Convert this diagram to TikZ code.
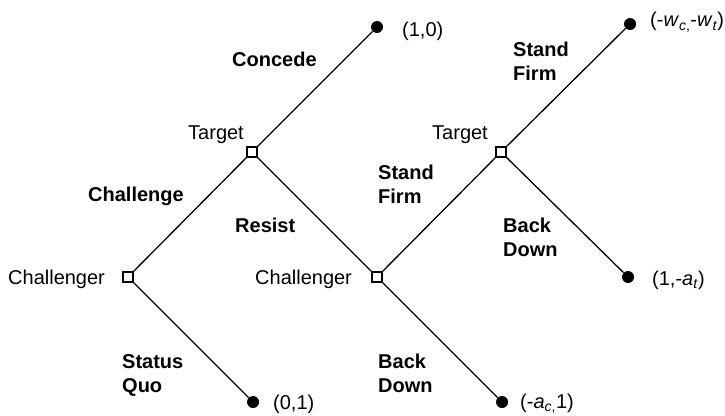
\documentclass[tikz,border=0pt]{standalone}
\usepackage{fontspec}
\setmainfont{Liberation Sans}
\begin{document}
\begin{tikzpicture}[x=1pt,y=-1pt,
  decision/.style={draw=black,fill=white,line width=1.2pt,minimum size=10pt,inner sep=0pt,rectangle},
  outcome/.style={circle,fill=black,minimum size=12pt,inner sep=0pt},
  branch/.style={line width=1.3pt},
  lbl/.style={anchor=base west,inner sep=0pt,font=\fontsize{20}{24}\selectfont},
  move/.style={lbl,font=\fontsize{20}{24}\selectfont\bfseries}]
\useasboundingbox (0,0) rectangle (725,415);

% decision points
\node[decision] (c1) at (128,277) {};
\node[decision] (t1) at (252,152) {};
\node[decision] (c2) at (377,277) {};
\node[decision] (t2) at (501,152) {};

% terminal outcomes
\node[outcome] (e1) at (377,27) {};
\node[outcome] (e2) at (630,24) {};
\node[outcome] (e3) at (628,277) {};
\node[outcome] (e4) at (502,402) {};
\node[outcome] (e5) at (253,402) {};

% branches
\draw[branch] (c1) -- (t1);
\draw[branch] (c1) -- (e5);
\draw[branch] (t1) -- (e1);
\draw[branch] (t1) -- (c2);
\draw[branch] (c2) -- (t2);
\draw[branch] (c2) -- (e4);
\draw[branch] (t2) -- (e2);
\draw[branch] (t2) -- (e3);

% players
\node[lbl] (pc1) at (8,284) {Challenger};
\node[lbl] (pt1) at (188,139) {Target};
\node[lbl] (pc2) at (255,284) {Challenger};
\node[lbl] (pt2) at (432,139) {Target};

% moves
\node[move] (mch) at (88,201) {Challenge};
\node[move] (msq1) at (122,368) {Status};
\node[move] (msq2) at (122,392) {Quo};
\node[move] (mco) at (232,66) {Concede};
\node[move] (mre) at (235,232) {Resist};
\node[move] (msf1a) at (378,179) {Stand};
\node[move] (msf1b) at (378,203) {Firm};
\node[move] (mbd1a) at (378,368) {Back};
\node[move] (mbd1b) at (378,392) {Down};
\node[move] (msf2a) at (513,56) {Stand};
\node[move] (msf2b) at (513,80) {Firm};
\node[move] (mbd2a) at (503,232) {Back};
\node[move] (mbd2b) at (503,256) {Down};

% payoffs
\node[lbl] (p1) at (402,36) {(1,0)};
\node[lbl] (p2) at (650,27) {(-\textit{w}\textsubscript{\textit{c},}-\textit{w}\textsubscript{\textit{t}})};
\node[lbl] (p3) at (652,285) {(1,-\textit{a}\textsubscript{\textit{t}})};
\node[lbl] (p4) at (520,408) {(-\textit{a}\textsubscript{\textit{c},}1)};
\node[lbl] (p5) at (273,409) {(0,1)};
\end{tikzpicture}
\end{document}
